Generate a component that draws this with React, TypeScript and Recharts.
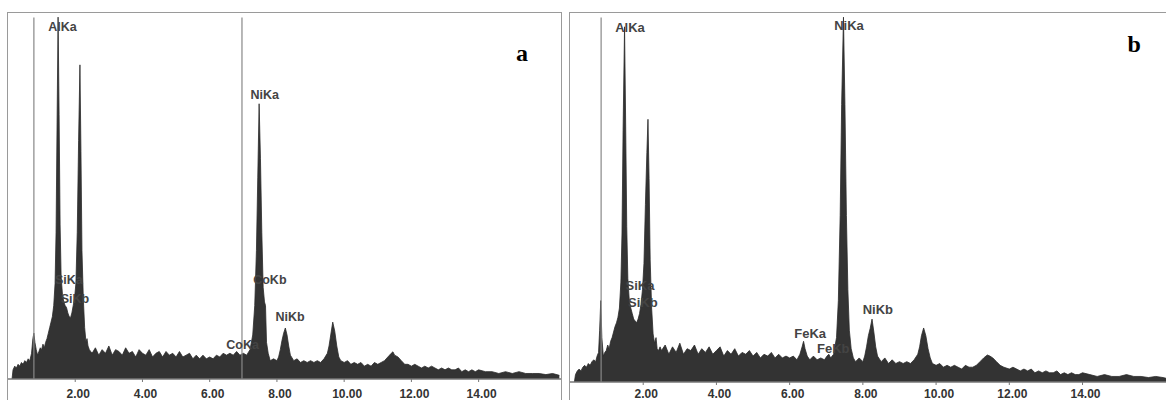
import React from 'react';
import { AreaChart, Area, XAxis, YAxis, ReferenceDot, ReferenceLine } from 'recharts';

// energy (keV) and relative counts (% of full scale)
const spectrumA: [number, number][] = [
    [0.12, 0], [0.15, 2.5], [0.2, 3.5], [0.25, 3], [0.3, 4], [0.35, 3.5], [0.4, 4.5], [0.45, 4], [0.5, 5],
    [0.55, 4.5], [0.6, 5.5], [0.65, 5], [0.7, 7], [0.74, 11], [0.77, 12.5], [0.8, 10], [0.84, 8], [0.88, 6.5],
    [0.92, 7.5], [0.96, 8.5], [1.0, 8], [1.04, 9.5], [1.08, 8.5], [1.12, 10], [1.16, 11], [1.2, 12.5],
    [1.24, 14], [1.28, 15.5], [1.32, 17], [1.36, 20], [1.4, 26], [1.43, 40], [1.46, 70], [1.49, 98.6],
    [1.52, 72], [1.55, 42], [1.58, 28], [1.62, 23], [1.66, 21], [1.7, 20], [1.74, 19.5], [1.78, 18],
    [1.82, 17], [1.86, 16.7], [1.9, 18], [1.94, 20], [1.98, 22], [2.02, 26], [2.06, 40], [2.1, 65],
    [2.14, 85.6], [2.17, 62], [2.2, 35], [2.24, 22], [2.28, 14], [2.32, 10], [2.35, 11], [2.38, 9],
    [2.42, 8], [2.46, 7.5], [2.5, 7], [2.6, 8.5], [2.7, 6.5], [2.8, 8], [2.9, 7], [3.0, 9], [3.1, 6.5],
    [3.2, 8], [3.3, 7.5], [3.4, 6.5], [3.5, 8.5], [3.6, 7], [3.7, 7.5], [3.8, 6], [3.9, 8], [4.0, 7],
    [4.1, 6.5], [4.2, 8], [4.3, 6], [4.4, 7], [4.5, 7.5], [4.6, 6], [4.7, 7.5], [4.8, 6.5], [4.9, 7],
    [5.0, 6], [5.1, 7.5], [5.2, 6], [5.3, 6.5], [5.4, 7], [5.5, 5.5], [5.6, 6.5], [5.7, 5.5], [5.8, 6.5],
    [5.9, 5.5], [6.0, 6], [6.1, 5.5], [6.2, 6.5], [6.3, 6], [6.4, 7], [6.5, 6.5], [6.6, 7], [6.7, 6.5],
    [6.8, 7.5], [6.9, 6.5], [7.0, 7], [7.1, 6.5], [7.2, 8], [7.28, 12], [7.34, 20], [7.39, 35], [7.43, 55],
    [7.47, 75], [7.51, 60], [7.55, 40], [7.59, 25], [7.63, 21], [7.66, 20], [7.69, 10], [7.74, 7], [7.8, 5],
    [7.9, 5.5], [8.0, 5], [8.05, 6], [8.1, 8], [8.15, 10.5], [8.2, 12.5], [8.25, 13.9], [8.3, 12], [8.35, 9],
    [8.4, 6.5], [8.5, 5], [8.6, 5.5], [8.7, 4.5], [8.8, 5], [8.9, 4.5], [9.0, 5], [9.1, 4.5], [9.2, 5],
    [9.3, 4.5], [9.4, 5.5], [9.5, 7], [9.55, 9], [9.6, 12], [9.66, 15.5], [9.72, 13], [9.78, 9], [9.84, 6],
    [9.9, 5], [10.0, 4.5], [10.1, 5], [10.2, 4], [10.3, 4.5], [10.4, 4], [10.5, 4.5], [10.6, 3.5], [10.7, 4],
    [10.8, 3.5], [10.9, 4.5], [11.0, 4], [11.1, 4.5], [11.2, 5], [11.3, 6], [11.4, 7], [11.45, 7.4],
    [11.5, 6.5], [11.6, 6], [11.7, 5], [11.8, 4], [11.9, 4], [12.0, 3.5], [12.1, 4], [12.2, 3.5], [12.3, 3],
    [12.4, 3.5], [12.5, 3], [12.6, 3.5], [12.7, 3], [12.8, 2.5], [12.9, 3], [13.0, 2.5], [13.1, 3],
    [13.2, 2.5], [13.3, 2.5], [13.4, 3], [13.5, 2], [13.6, 2.5], [13.7, 2], [13.8, 2.5], [13.9, 2],
    [14.0, 2.5], [14.2, 2], [14.4, 2], [14.6, 1.5], [14.8, 2], [15.0, 1.5], [15.2, 2], [15.4, 1.5],
    [15.6, 1.5], [15.8, 1.5], [16.0, 1.2], [16.2, 1.5], [16.4, 1],
];

const spectrumB: [number, number][] = [
    [0.12, 0], [0.15, 2], [0.2, 3], [0.25, 3.5], [0.3, 3], [0.35, 4], [0.4, 4.5], [0.45, 4], [0.5, 5],
    [0.55, 4.5], [0.6, 5.5], [0.65, 6], [0.7, 5.5], [0.74, 7], [0.78, 8], [0.81, 14], [0.84, 22],
    [0.87, 12], [0.91, 7], [0.95, 8], [0.99, 8.5], [1.03, 10], [1.07, 9], [1.11, 11], [1.15, 12],
    [1.19, 13.5], [1.23, 15], [1.27, 16], [1.31, 17.5], [1.35, 20], [1.39, 27], [1.42, 40], [1.45, 68],
    [1.49, 96], [1.52, 70], [1.55, 42], [1.58, 28], [1.62, 22], [1.66, 20], [1.7, 18.5], [1.74, 17],
    [1.78, 16.5], [1.82, 16], [1.86, 17], [1.9, 18.5], [1.94, 21], [1.98, 25], [2.02, 32], [2.06, 48],
    [2.1, 62], [2.13, 71], [2.16, 55], [2.19, 33], [2.23, 20], [2.27, 13], [2.31, 10.5], [2.35, 12],
    [2.38, 9], [2.42, 8.5], [2.46, 9.5], [2.5, 8.5], [2.6, 10], [2.7, 7.5], [2.8, 9.5], [2.9, 8],
    [3.0, 10.5], [3.1, 7.5], [3.2, 9], [3.3, 8.5], [3.4, 10], [3.5, 7.5], [3.6, 9], [3.7, 8], [3.8, 9.5],
    [3.9, 7.5], [4.0, 8.5], [4.1, 9.5], [4.2, 7], [4.3, 8.5], [4.4, 7.5], [4.5, 9], [4.6, 7], [4.7, 8],
    [4.8, 7.5], [4.9, 8.5], [5.0, 7], [5.1, 8], [5.2, 6.5], [5.3, 7.5], [5.4, 7], [5.5, 8], [5.6, 6.5],
    [5.7, 7.5], [5.8, 6.5], [5.9, 7], [6.0, 6.5], [6.1, 7], [6.2, 6], [6.28, 7.5], [6.34, 9.5], [6.38, 11],
    [6.42, 9], [6.48, 7], [6.55, 6], [6.65, 7], [6.75, 6], [6.85, 6.5], [6.95, 6], [7.02, 7], [7.07, 7.5],
    [7.12, 6.5], [7.2, 7.5], [7.28, 12], [7.33, 22], [7.38, 45], [7.42, 75], [7.47, 98.6], [7.51, 75],
    [7.55, 45], [7.59, 25], [7.63, 14], [7.68, 9], [7.74, 6.5], [7.8, 5.5], [7.9, 6.5], [8.0, 5.5],
    [8.05, 7], [8.1, 9.5], [8.15, 12.5], [8.2, 14.5], [8.25, 17], [8.3, 13.5], [8.35, 9.5], [8.4, 7],
    [8.5, 5.5], [8.6, 6.5], [8.7, 5], [8.8, 6], [8.9, 5], [9.0, 5.5], [9.1, 5], [9.2, 5.5], [9.3, 5],
    [9.4, 6], [9.5, 7.5], [9.55, 9.5], [9.6, 12.5], [9.66, 14.6], [9.72, 12.5], [9.78, 9], [9.84, 6.5],
    [9.9, 5], [10.0, 4.5], [10.1, 5], [10.2, 4], [10.3, 4.5], [10.4, 4], [10.5, 4.5], [10.6, 4],
    [10.7, 3.5], [10.8, 4.5], [10.9, 4], [11.0, 4], [11.1, 4.5], [11.2, 5.5], [11.3, 6.5], [11.4, 7.3],
    [11.47, 7], [11.55, 6.5], [11.65, 5.5], [11.75, 4.5], [11.85, 4], [12.0, 3.5], [12.1, 4], [12.2, 3.5],
    [12.3, 3], [12.4, 3.5], [12.5, 3], [12.6, 3.5], [12.7, 2.5], [12.8, 3], [12.9, 2.5], [13.0, 3],
    [13.1, 2.5], [13.2, 2.5], [13.3, 3], [13.4, 2], [13.5, 2.5], [13.6, 2], [13.7, 2.5], [13.8, 2],
    [13.9, 2], [14.0, 2.5], [14.2, 2], [14.4, 1.5], [14.6, 2], [14.8, 1.5], [15.0, 1.5], [15.2, 2],
    [15.4, 1.5], [15.6, 1.5], [15.8, 1.2], [16.0, 1.5], [16.2, 1.2], [16.28, 1],
];

const ticksKeV = [2, 4, 6, 8, 10, 12, 14];

type Tag = { e: number; c: number; text: string };

const tagsA: Tag[] = [
    { e: 1.62, c: 95.9, text: 'AlKa' },
    { e: 7.64, c: 77.4, text: 'NiKa' },
    { e: 1.81, c: 27, text: 'SiKa' },
    { e: 1.99, c: 21.8, text: 'SiKb' },
    { e: 7.79, c: 27, text: 'CoKb' },
    { e: 6.98, c: 9.3, text: 'CoKa' },
    { e: 8.39, c: 16.9, text: 'NiKb' },
];

const tagsB: Tag[] = [
    { e: 1.64, c: 95.9, text: 'AlKa' },
    { e: 7.62, c: 96.5, text: 'NiKa' },
    { e: 1.91, c: 26.2, text: 'SiKa' },
    { e: 1.99, c: 21.6, text: 'SiKb' },
    { e: 6.56, c: 13.2, text: 'FeKa' },
    { e: 7.19, c: 9.2, text: 'FeKb' },
    { e: 8.41, c: 19.7, text: 'NiKb' },
];

// cursor lines of the analyser software
const markersA = [0.77, 6.96];
const markersB = [0.85];

const sans = '"Liberation Sans", Arial, sans-serif';
const serif = '"Liberation Serif", "Times New Roman", serif';

interface PanelProps {
    spectrum: [number, number][];
    tags: Tag[];
    markers: number[];
    letter: string;
    letterAt: [number, number];
    xMax: number;
    width: number;
    rightMargin: number;
    axisHeight: number;
    tickMargin: number;
    tagSize: number;
}

const Panel: React.FC<PanelProps> = ({
    spectrum, tags, markers, letter, letterAt, xMax, width, rightMargin, axisHeight, tickMargin, tagSize,
}) => {
    const data = spectrum.map(([e, c]) => ({ e, c }));

    return (
        <AreaChart width={width} height={400} data={data} margin={{ top: 12, right: rightMargin, bottom: 0, left: 8 }}>
            <XAxis
                dataKey="e"
                type="number"
                domain={[0, xMax]}
                allowDataOverflow
                ticks={ticksKeV}
                tickFormatter={(v: number) => v.toFixed(2)}
                height={axisHeight}
                tickSize={3}
                tickMargin={tickMargin}
                axisLine={{ stroke: '#777', strokeWidth: 1.5 }}
                tickLine={{ stroke: '#777' }}
                tick={{ fill: '#333', fontSize: 12, fontWeight: 'bold', fontFamily: sans, dx: 3 }}
            />
            <YAxis hide domain={[0, 100]} allowDataOverflow />
            {tags.map(t => (
                <ReferenceDot
                    key={t.text}
                    x={t.e}
                    y={t.c}
                    r={0}
                    fill="none"
                    stroke="none"
                    label={{ value: t.text, position: 'center', fill: '#444', fontSize: tagSize, fontWeight: 'bold', fontFamily: sans }}
                />
            ))}
            {markers.map(m => (
                <ReferenceLine key={m} segment={[{ x: m, y: 0 }, { x: m, y: 98.5 }]} stroke="#888" strokeWidth={1.2} />
            ))}
            <Area
                type="linear"
                dataKey="c"
                stroke="#2b2b2b"
                strokeWidth={0.8}
                fill="#333"
                fillOpacity={1}
                dot={false}
                activeDot={false}
                isAnimationActive={false}
            />
            <ReferenceDot
                x={letterAt[0]}
                y={letterAt[1]}
                r={0}
                fill="none"
                stroke="none"
                label={{ value: letter, position: 'center', fill: '#000', fontSize: 24, fontWeight: 'bold', fontFamily: serif }}
            />
        </AreaChart>
    );
};

export default function App() {
    return (
        <div style={{ position: 'absolute', left: 0, top: 0, width: 1166, height: 400, background: '#fff', overflow: 'hidden' }}>
            <div style={{ position: 'absolute', left: 7, top: 12, width: 555, height: 388, boxSizing: 'border-box', borderTop: '1.5px solid #9a9a9a', borderLeft: '1.5px solid #9a9a9a', borderRight: '1.5px solid #9a9a9a' }} />
            <div style={{ position: 'absolute', left: 569, top: 12, width: 597, height: 388, boxSizing: 'border-box', borderTop: '1.5px solid #9a9a9a', borderLeft: '1.5px solid #9a9a9a' }} />
            <div style={{ position: 'absolute', left: 0, top: 0 }}>
                <Panel
                    spectrum={spectrumA}
                    tags={tagsA}
                    markers={markersA}
                    letter="a"
                    letterAt={[15.29, 89.1]}
                    xMax={16.45}
                    width={566}
                    rightMargin={5}
                    axisHeight={21}
                    tickMargin={7}
                    tagSize={12.5}
                />
            </div>
            <div style={{ position: 'absolute', left: 562, top: 0 }}>
                <Panel
                    spectrum={spectrumB}
                    tags={tagsB}
                    markers={markersB}
                    letter="b"
                    letterAt={[15.41, 91.6]}
                    xMax={16.28}
                    width={604}
                    rightMargin={0}
                    axisHeight={18}
                    tickMargin={4}
                    tagSize={13}
                />
            </div>
        </div>
    );
}
